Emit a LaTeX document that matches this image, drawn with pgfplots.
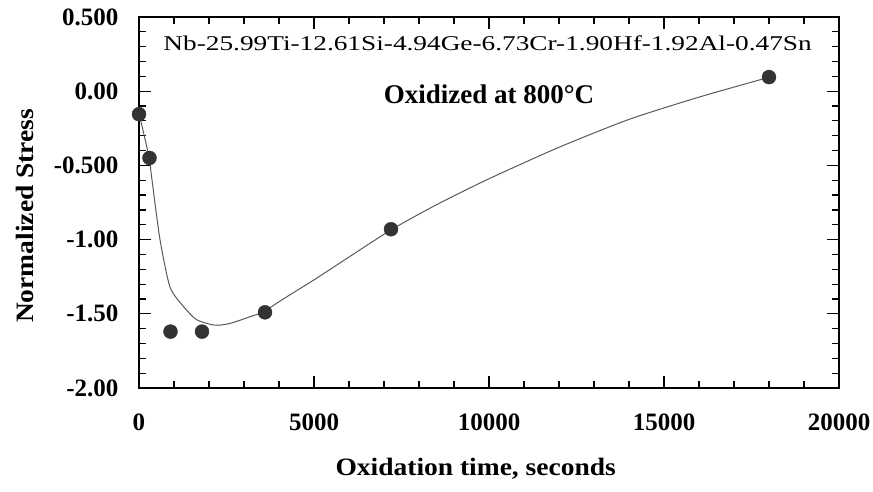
\documentclass[border=0pt]{standalone}
\usepackage{fontspec}
\setmainfont{Liberation Serif}
\newfontfamily\widefont[FakeStretch=1.3]{Liberation Serif}
\newfontfamily\labfont[FakeStretch=1.1]{Liberation Serif}
\usepackage{pgfplots}
\pgfplotsset{compat=1.18}
\begin{document}
\begin{tikzpicture}
\useasboundingbox (-139pt,-104pt) rectangle (734pt,388pt);
\begin{axis}[
  at={(0pt,0pt)}, anchor=south west, scale only axis,
  width=700pt, height=371pt,
  xmin=0, xmax=20000, ymin=-2, ymax=0.5,
  scaled x ticks=false, scaled y ticks=false,
  xtick={0,5000,10000,15000,20000},
  xticklabels={0,5000,10000,15000,20000},
  minor x tick num=4,
  ytick={-2,-1.5,-1,-0.5,0,0.5},
  yticklabels={-2.00,-1.50,-1.00,-0.500,0.00,0.500},
  minor y tick num=4,
  tick align=inside,
  major tick length=12pt, minor tick length=7pt,
  axis line style={line width=1.5pt},
  every tick/.style={line width=1.2pt, black},
  /pgf/number format/assume math mode=true,
  ticklabel style={font=\fontsize{25}{25}\selectfont\bfseries},
  xticklabel style={yshift=-22pt},
  yticklabel style={xshift=-17pt},
  xlabel={Oxidation time, seconds},
  ylabel={Normalized Stress},
  label style={font=\labfont\fontsize{25}{25}\selectfont\bfseries},
  xlabel style={at={(axis description cs:0.481,-0.218)}, anchor=center},
  ylabel style={at={(axis description cs:-0.163,0.464)}, anchor=center},
]
\addplot[smooth, tension=0.4, line width=1pt, color=black!65, no markers] coordinates {
(0,-0.15) (150,-0.30) (300,-0.46) (362,-0.58) (600,-1.00) (886,-1.32)
(1267,-1.45) (1648,-1.54) (2171,-1.577) (2600,-1.565) (3171,-1.52)
(3552,-1.487) (4124,-1.40) (5076,-1.26) (6029,-1.113)
(7219,-0.932) (8500,-0.765) (10000,-0.59) (12000,-0.378)
(14000,-0.19) (16000,-0.04) (17971,0.092)
};
\addplot[only marks, mark=*, mark size=7pt, mark options={fill=black!80, draw=black!80}] coordinates {
(0,-0.155) (300,-0.45) (900,-1.62) (1800,-1.62) (3600,-1.49) (7200,-0.93) (18000,0.095)
};
\node[font=\widefont\fontsize{21}{21}\selectfont] at (rel axis cs:0.498,0.930) {Nb-25.99Ti-12.61Si-4.94Ge-6.73Cr-1.90Hf-1.92Al-0.47Sn};
\node[font=\bfseries\fontsize{27}{27}\selectfont] at (rel axis cs:0.5,0.792) {Oxidized at 800°C};
\end{axis}
\end{tikzpicture}
\end{document}
